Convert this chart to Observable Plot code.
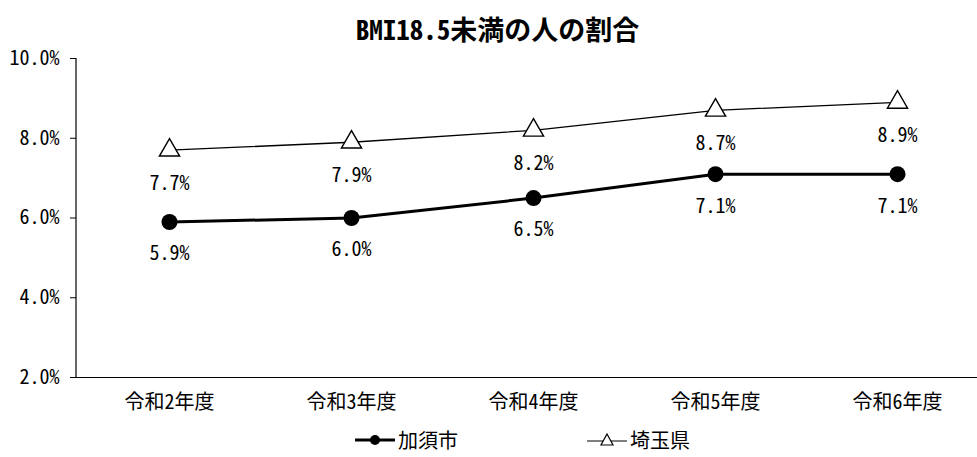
<!DOCTYPE html>
<html><head><meta charset="utf-8">
<script src="https://cdn.jsdelivr.net/npm/d3@7"></script>
<script src="https://cdn.jsdelivr.net/npm/@observablehq/plot@0.6"></script>
<style>
body{margin:0;background:#fff;font-family:"Noto Sans Mono CJK JP","Noto Sans CJK JP",sans-serif;position:relative;}
#title{position:absolute;top:0;left:0;width:977px;height:45px;line-height:58px;text-align:center;font-weight:bold;font-size:27px;padding-left:18px;box-sizing:border-box;color:#000;}
#legend{height:37px;position:relative;font-size:20px;}
#legend .item{position:absolute;top:5px;display:flex;align-items:center;}
</style></head>
<body>
<div id="chart"></div>
<div id="title">BMI18.5未満の人の割合</div>
<div id="legend">
  <div class="item" style="left:354px"><svg width="42" height="22"><line x1="1" y1="11" x2="41" y2="11" stroke="#000" stroke-width="3"/><circle cx="21" cy="11" r="5" fill="#000"/></svg><span style="margin-left:2px">加須市</span></div>
  <div class="item" style="left:586px"><svg width="42" height="22"><line x1="1" y1="12" x2="41" y2="12" stroke="#000" stroke-width="1.2"/><path d="M21,5 L27,16 L15,16 Z" fill="#fff" stroke="#000" stroke-width="1.2"/></svg><span style="margin-left:2px">埼玉県</span></div>
</div>
<script>
const years = ["令和2年度","令和3年度","令和4年度","令和5年度","令和6年度"];
const kazo = [5.9, 6.0, 6.5, 7.1, 7.1];
const saitama = [7.7, 7.9, 8.2, 8.7, 8.9];
const yTicks = [2, 4, 6, 8, 10];

const kData = years.map((y,i)=>({year:y, v:kazo[i]}));
const sData = years.map((y,i)=>({year:y, v:saitama[i]}));
const fmt = v => v.toFixed(1) + "%";
const font = '"Noto Sans Mono CJK JP","Noto Sans CJK JP",sans-serif';

const plot = Plot.plot({
  width: 977, height: 420,
  marginLeft: 76, marginRight: 0, marginTop: 58, marginBottom: 43,
  style: {fontFamily: font, fontSize: "20px", color: "#000", background: "transparent"},
  x: {type: "point", domain: years, range: [168, 897], padding: 0, label: null},
  y: {domain: [2, 10], range: [377, 58], label: null},
  marks: [
    Plot.ruleY([2], {stroke: "#000", strokeWidth: 1.2}),
    Plot.axisY({ticks: yTicks, tickFormat: fmt, tickSize: 6, tickPadding: 11, fontSize: 20, stroke: "#000", strokeOpacity: 1, label: null}),
    Plot.axisX({tickSize: 0, tickPadding: 17, fontSize: 20, label: null}),
    Plot.line(sData, {x: "year", y: "v", stroke: "#000", strokeWidth: 1.3}),
    Plot.line(kData, {x: "year", y: "v", stroke: "#000", strokeWidth: 3}),
    Plot.dot(sData, {x: "year", y: "v", symbol: "triangle", r: 7.5, fill: "#fff", stroke: "#000", strokeWidth: 1.4}),
    Plot.dot(kData, {x: "year", y: "v", r: 8, fill: "#000", stroke: "none"}),
    Plot.text(sData, {x: "year", y: "v", text: d => fmt(d.v), dy: 33, fontSize: 20, fill: "#000"}),
    Plot.text(kData, {x: "year", y: "v", text: d => fmt(d.v), dy: 32, fontSize: 20, fill: "#000"})
  ]
});
document.getElementById("chart").appendChild(plot);
d3.select(plot).append("line").attr("x1",76).attr("x2",76).attr("y1",58).attr("y2",377).attr("stroke","#000").attr("stroke-width",1.2);
</script>
</body></html>
